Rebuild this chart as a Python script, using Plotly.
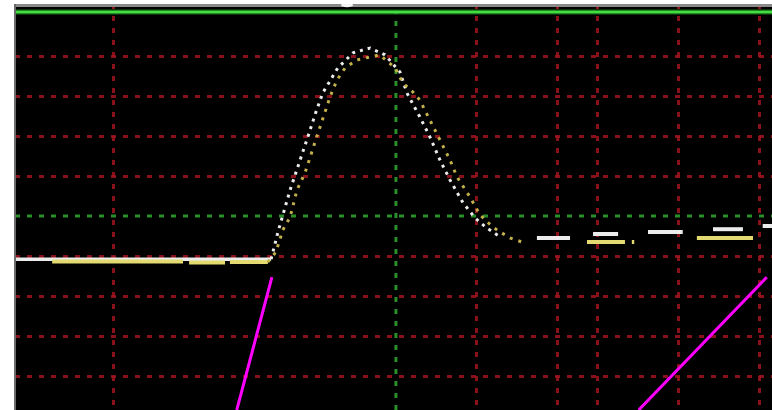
import plotly.graph_objects as go

# Axis layout in screen divisions (centre cursor at x=0, y=0)
x_range = [-9.43, 9.31]
y_range = [-4.85, 5.30]
red_x_cursors = [-7, 2, 4, 5, 7, 9]
red_y_levels = [-4, -3, -2, -1, 1, 2, 3, 4]

# Channel 1 (white) trace
white_flat_x = [-9.43, -3.09]
white_flat_y = [-1.08, -1.08]
white_edge_x = [-3.09, -2.92, -2.62, -2.38, -2.18, -1.98, -1.81, -1.44, -1.06, -0.64,
                -0.27, 0.10, 0.27, 0.59, 0.84, 1.09, 1.34, 1.66, 1.96, 2.25, 2.52]
white_edge_y = [-1.08, -0.40, 0.65, 1.35, 1.98, 2.60, 3.08, 3.70, 4.08, 4.20,
                4.03, 3.60, 3.08, 2.48, 1.98, 1.40, 0.90, 0.33, -0.05, -0.30, -0.48]
white_tail_x = [3.49, 4.31, None, 4.88, 5.50, None, 6.24, 7.10, None, 7.85, 8.59, None, 9.08, 9.31]
white_tail_y = [-0.55, -0.55, None, -0.45, -0.45, None, -0.40, -0.40, None, -0.33, -0.33, None, -0.25, -0.25]

# Channel 2 (yellow) trace
yellow_flat_x = [-8.51, -5.27, None, -5.12, -4.23, None, -4.11, -3.17]
yellow_flat_y = [-1.14, -1.14, None, -1.16, -1.16, None, -1.15, -1.15]
yellow_edge_x = [-3.17, -2.97, -2.80, -2.62, -2.45, -2.25, -1.96, -1.63, -1.46, -1.26, -0.97,
                 -0.40, -0.02, 0.17, 0.42, 0.59, 0.84, 1.09, 1.34, 1.51, 1.83, 2.08, 2.40, 2.82, 3.12]
yellow_edge_y = [-1.15, -0.90, -0.35, -0.03, 0.65, 1.08, 1.98, 2.98, 3.40, 3.70, 3.90,
                 4.03, 3.70, 3.33, 3.10, 2.90, 2.40, 1.90, 1.40, 0.98, 0.48, 0.03, -0.28, -0.55, -0.65]
yellow_tail_x = [4.73, 5.67, None, 5.84, 5.90, None, 7.45, 8.84]
yellow_tail_y = [-0.65, -0.65, None, -0.65, -0.65, None, -0.55, -0.55]

# Magenta pointer lines
pointer_a_x = [-3.07, -3.94]
pointer_a_y = [-1.53, -4.85]
pointer_b_x = [9.18, 6.01]
pointer_b_y = [-1.53, -4.85]

RED = "rgba(160,20,30,0.85)"
GREEN = "rgba(45,160,45,0.9)"
DOTS = "5px,7px"
WHITE = "#ececec"
YELLOW = "#e2da70"

fig = go.Figure()


def add_line(xs, ys, color, width, dash="solid"):
    fig.add_trace(go.Scatter(x=xs, y=ys, mode="lines", showlegend=False, hoverinfo="skip",
                             line=dict(color=color, width=width, dash=dash)))


add_line(white_flat_x, white_flat_y, WHITE, 3.5)
add_line(white_edge_x, white_edge_y, WHITE, 3, "3px,5px")
add_line(white_tail_x, white_tail_y, WHITE, 4)
add_line(yellow_flat_x, yellow_flat_y, YELLOW, 4)
add_line(yellow_edge_x, yellow_edge_y, "#c2b04a", 3, "3px,6px")
add_line(yellow_tail_x, yellow_tail_y, YELLOW, 4)
add_line(pointer_a_x, pointer_a_y, "#ff00ff", 3)
add_line(pointer_b_x, pointer_b_y, "#ff00ff", 3)

# Centre cursors in green
fig.add_shape(type="line", xref="x", yref="y", x0=0, x1=0, y0=y_range[0], y1=5.1,
              line=dict(color=GREEN, width=3, dash=DOTS), layer="below")
fig.add_shape(type="line", xref="x", yref="y", x0=x_range[0], x1=x_range[1], y0=0, y1=0,
              line=dict(color=GREEN, width=3, dash=DOTS), layer="below")

# Top bezel: grey band and solid green border line
fig.add_shape(type="rect", xref="paper", yref="y", x0=0, x1=1, y0=5.225, y1=y_range[1],
              fillcolor="#8a8a8a", line=dict(width=0), layer="above")
fig.add_shape(type="line", xref="paper", yref="y", x0=0, x1=1, y0=5.1, y1=5.1,
              line=dict(color="rgba(40,150,40,0.7)", width=5), layer="above")
fig.add_shape(type="line", xref="paper", yref="y", x0=0, x1=1, y0=5.1, y1=5.1,
              line=dict(color="#40e040", width=2.5), layer="above")
fig.add_shape(type="line", xref="paper", yref="paper", x0=0, x1=0, y0=0, y1=1,
              line=dict(color="#6a6a6a", width=2), layer="above")
fig.add_shape(type="circle", xref="x", yref="y", x0=-1.36, x1=-1.06, y0=5.22, y1=5.32,
              fillcolor="#f4f4f4", line=dict(width=0), layer="above")

fig.update_layout(
    width=772, height=410,
    margin=dict(l=15, r=0, t=4, b=0),
    paper_bgcolor="white",
    plot_bgcolor="black",
    xaxis=dict(range=x_range, tickvals=red_x_cursors, showticklabels=False, ticks="",
               showgrid=True, gridcolor=RED, gridwidth=3, griddash=DOTS,
               zeroline=False, showline=False, fixedrange=True),
    yaxis=dict(range=y_range, tickvals=red_y_levels, showticklabels=False, ticks="",
               showgrid=True, gridcolor=RED, gridwidth=3, griddash=DOTS,
               zeroline=False, showline=False, fixedrange=True),
)

fig.write_html("out.html", config={"displayModeBar": False})
